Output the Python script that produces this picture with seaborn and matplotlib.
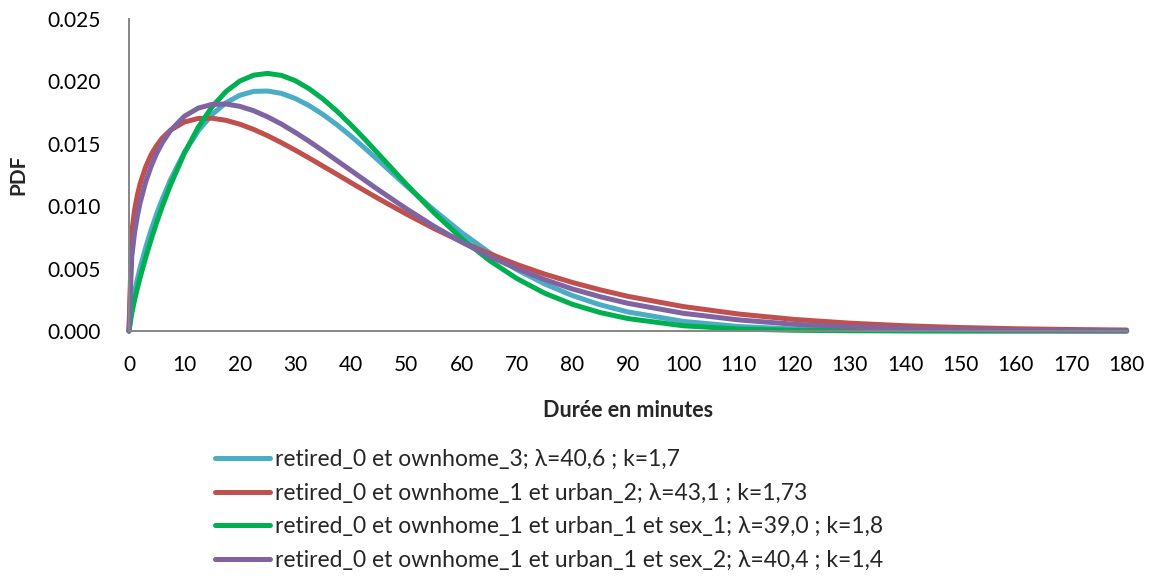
import numpy as np
import pandas as pd
import matplotlib
matplotlib.use("Agg")
import matplotlib.pyplot as plt
import seaborn as sns

# values (PDF vs duration in minutes)
durees = [0, 0.5, 1, 1.5, 2, 3, 4, 5, 6, 7.5, 10, 12.5, 15, 17.5, 20, 22.5, 25, 27.5, 30,
          32.5, 35, 37.5, 40, 42.5, 45, 50, 55, 60, 65, 70, 75, 80, 85, 90, 100, 110, 120,
          130, 140, 150, 160, 170, 180]

pdf_ownhome3 = [0, 0.00193, 0.00313, 0.00415, 0.00506, 0.00668, 0.00811, 0.00940, 0.01056,
                0.01213, 0.01432, 0.01604, 0.01735, 0.01829, 0.01889, 0.01920, 0.01923,
                0.01904, 0.01863, 0.01806, 0.01735, 0.01653, 0.01563, 0.01467, 0.01367,
                0.01165, 0.00970, 0.00789, 0.00629, 0.00491, 0.00377, 0.00284, 0.00210,
                0.00153, 0.00077, 0.00036, 0.00016, 0.00007, 0.00003, 0.00001, 0.000004,
                0.000001, 0.0]

pdf_urban2 = [0, 0.00792, 0.00968, 0.01087, 0.01179, 0.01314, 0.01413, 0.01487, 0.01546,
              0.01610, 0.01675, 0.01703, 0.01705, 0.01688, 0.01657, 0.01615, 0.01565,
              0.01509, 0.01449, 0.01386, 0.01321, 0.01256, 0.01190, 0.01125, 0.01061,
              0.00938, 0.00822, 0.00716, 0.00620, 0.00533, 0.00456, 0.00389, 0.00330,
              0.00278, 0.00196, 0.00136, 0.00093, 0.00063, 0.00042, 0.00028, 0.00018,
              0.00012, 0.00008]

pdf_sex1 = [0, 0.00142, 0.00246, 0.00340, 0.00427, 0.00587, 0.00734, 0.00871, 0.00998,
            0.01172, 0.01425, 0.01633, 0.01797, 0.01919, 0.02003, 0.02050, 0.02064,
            0.02048, 0.02006, 0.01941, 0.01859, 0.01762, 0.01654, 0.01539, 0.01419,
            0.01178, 0.00949, 0.00743, 0.00566, 0.00420, 0.00303, 0.00214, 0.00148,
            0.00100, 0.00042, 0.00016, 0.00006, 0.00002, 0.000006, 0.000002, 0.0, 0.0, 0.0]

pdf_sex2 = [0, 0.00597, 0.00785, 0.00919, 0.01026, 0.01193, 0.01321, 0.01424, 0.01508,
            0.01607, 0.01721, 0.01786, 0.01816, 0.01819, 0.01800, 0.01765, 0.01716,
            0.01658, 0.01591, 0.01520, 0.01444, 0.01366, 0.01288, 0.01209, 0.01131,
            0.00981, 0.00840, 0.00713, 0.00599, 0.00499, 0.00412, 0.00337, 0.00275,
            0.00222, 0.00142, 0.00089, 0.00054, 0.00033, 0.00019, 0.00011, 0.00006,
            0.00003, 0.00002]

labels = ["retired_0 et ownhome_3; λ=40,6 ; k=1,7",
          "retired_0 et ownhome_1 et urban_2; λ=43,1 ; k=1,73",
          "retired_0 et ownhome_1 et urban_1 et sex_1; λ=39,0 ; k=1,8",
          "retired_0 et ownhome_1 et urban_1 et sex_2; λ=40,4 ; k=1,4"]
couleurs = ["#4BACC6", "#C0504D", "#00B050", "#8064A2"]

x_ticks = list(range(0, 181, 10))
y_ticks = [0.0, 0.005, 0.010, 0.015, 0.020, 0.025]

frames = []
for lab, vals in zip(labels, [pdf_ownhome3, pdf_urban2, pdf_sex1, pdf_sex2]):
    frames.append(pd.DataFrame({"duree": durees, "pdf": vals, "serie": lab}))
df = pd.concat(frames, ignore_index=True)

sns.set_style("white")
plt.rcParams['font.family'] = ['Lato', 'DejaVu Sans']

fig = plt.figure(figsize=(11.59, 5.79), dpi=100)
ax = fig.add_axes([0.1113, 0.4283, 0.8608, 0.5389])

sns.lineplot(data=df, x="duree", y="pdf", hue="serie", hue_order=labels,
             palette=couleurs, linewidth=3.6, sort=False, estimator=None, ax=ax)
for line in ax.lines:
    line.set_clip_on(False)
    line.set_solid_capstyle("round")
    line.set_solid_joinstyle("round")

ax.set_xlim(0, 180)
ax.set_ylim(0, 0.025)
ax.set_xticks(x_ticks)
ax.set_yticks(y_ticks)
ax.set_yticklabels([f"{v:.3f}" for v in y_ticks])

for side in ["top", "right"]:
    ax.spines[side].set_visible(False)
for side in ["left", "bottom"]:
    ax.spines[side].set_color("#868686")
    ax.spines[side].set_linewidth(1.4)

ax.tick_params(axis="both", direction="out", length=6, width=1.4, color="#868686",
               labelsize=15, labelcolor="black")
ax.tick_params(axis="y", pad=14)
ax.tick_params(axis="x", pad=11)

ax.set_xlabel("Durée en minutes", fontsize=15.5, fontweight="bold", labelpad=18)
ax.set_ylabel("PDF", fontsize=15, fontweight="bold", labelpad=14)

leg = ax.legend(loc="upper left", bbox_to_anchor=(0.1855, 0.2245),
                bbox_transform=fig.transFigure, frameon=False, fontsize=16.5,
                handlelength=2.4, handletextpad=0.22, labelspacing=0.55,
                borderpad=0, borderaxespad=0)
for h in leg.get_lines():
    h.set_linewidth(3.6)

fig.savefig("out.png", dpi=100)
